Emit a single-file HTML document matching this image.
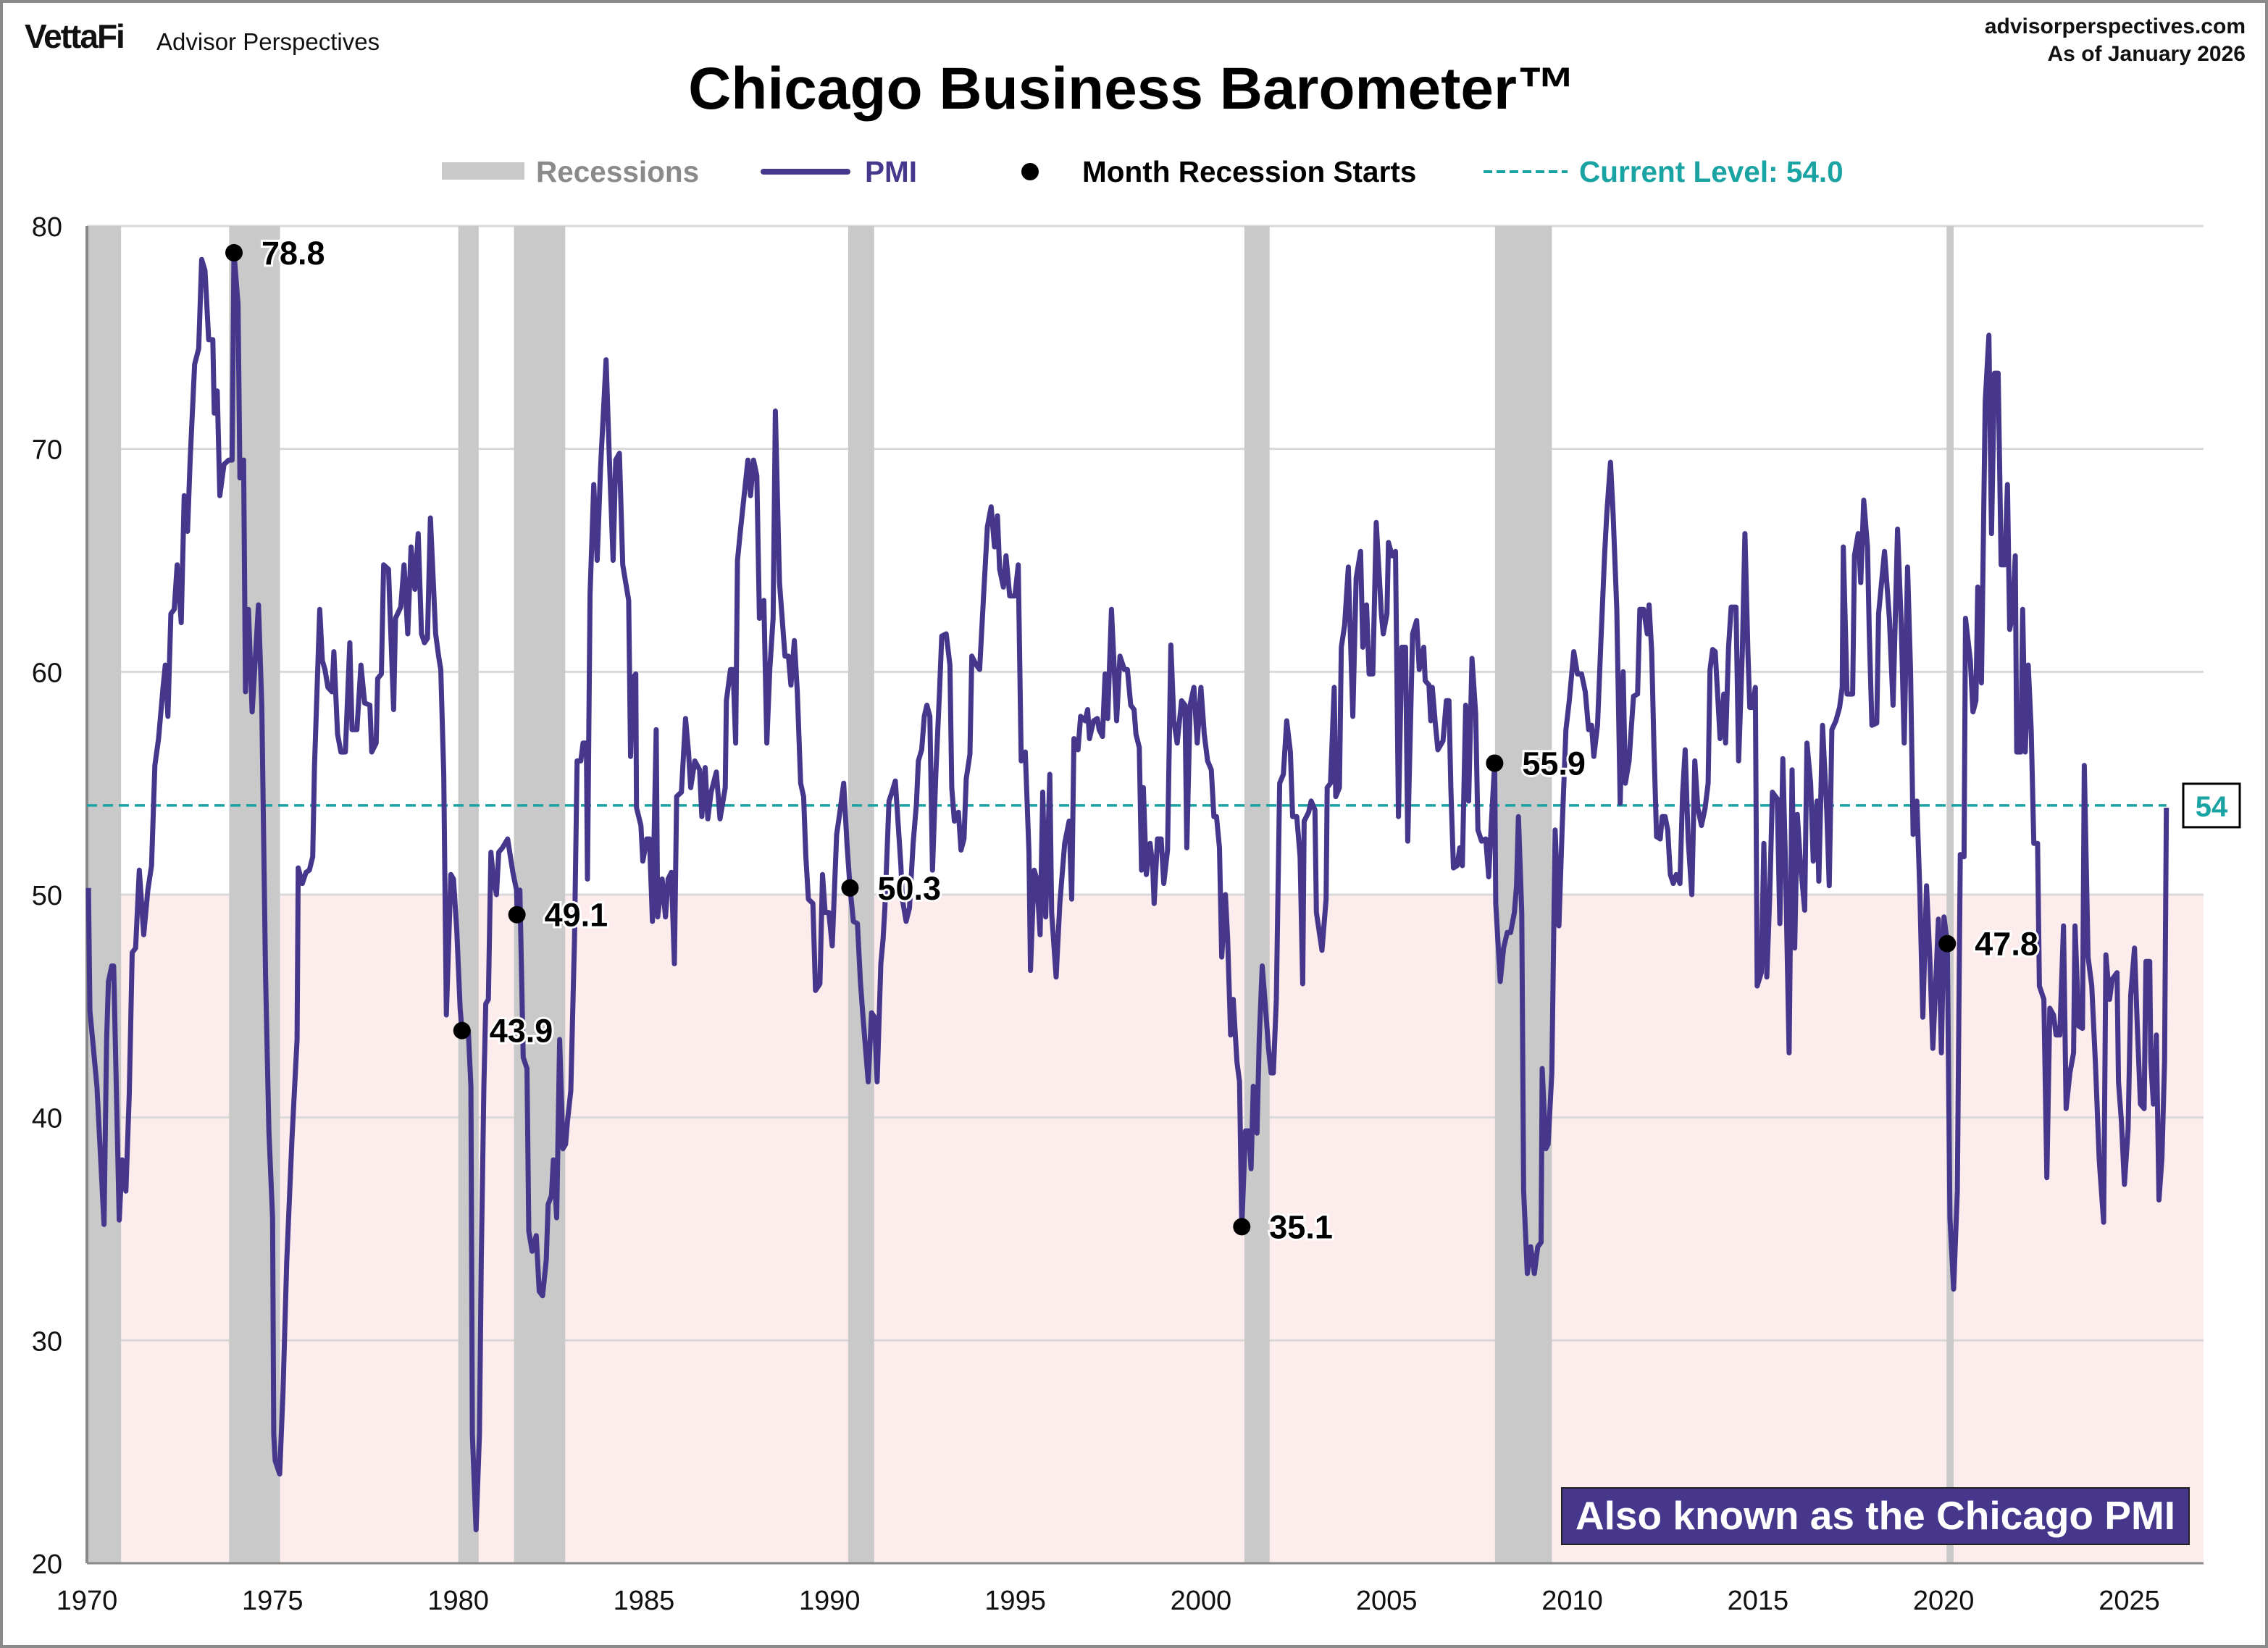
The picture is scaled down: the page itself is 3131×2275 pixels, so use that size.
<!DOCTYPE html>
<html><head><meta charset="utf-8"><style>
html,body{margin:0;padding:0;background:#fff}
svg{display:block}
text{font-family:"Liberation Sans",Arial,sans-serif;font-weight:bold}
</style></head><body>
<svg id="chart" xmlns="http://www.w3.org/2000/svg" width="3131" height="2275" viewBox="0 0 3131 2275">
<rect x="2" y="2" width="3127" height="2271" fill="#fff" stroke="#8a8a8a" stroke-width="4"/>
<text x="34" y="66" font-size="46" fill="#111" letter-spacing="-2">VettaFi</text>
<text x="216" y="69" font-size="33" fill="#111" style="font-weight:normal">Advisor Perspectives</text>
<text x="3100" y="46" font-size="30" text-anchor="end" fill="#111">advisorperspectives.com</text>
<text x="3100" y="84" font-size="30" text-anchor="end" fill="#111">As of January 2026</text>
<text x="1563" y="150" font-size="82" text-anchor="middle" fill="#000">Chicago Business Barometer™</text>
<g>
 <rect x="610" y="224" width="114" height="24" fill="#c9c9c9"/>
 <text x="740" y="251" font-size="40.5" fill="#8a8a8a">Recessions</text>
 <line x1="1054" y1="237" x2="1170" y2="237" stroke="#46368c" stroke-width="8" stroke-linecap="round"/>
 <text x="1194" y="251" font-size="40.5" fill="#46368c">PMI</text>
 <circle cx="1422" cy="237" r="12" fill="#000"/>
 <text x="1494" y="251" font-size="40.5" fill="#000">Month Recession Starts</text>
 <line x1="2048" y1="237" x2="2164" y2="237" stroke="#1aa3a3" stroke-width="4" stroke-dasharray="12 6"/>
 <text x="2180" y="251" font-size="40.5" fill="#1aa3a3">Current Level: 54.0</text>
</g>
<g id="plot"></g>
</svg>
<script>
const yTicks = [20,30,40,50,60,70,80];
const xTicks = [1970,1975,1980,1985,1990,1995,2000,2005,2010,2015,2020,2025];
const recessionStarts = [1970.0,1973.83,1980.0,1981.5,1990.5,2001.17,2007.92,2020.08];
const recessionEnds   = [1970.92,1975.2,1980.55,1982.88,1991.2,2001.85,2009.45,2020.27];
const markerYears  = [1973.96,1980.1,1981.58,1990.55,2001.1,2007.91,2020.1];
const markerValues = [78.8,43.9,49.1,50.3,35.1,55.9,47.8];
const currentLevel = 54.0;
const pmiSeries = [
[1970.04,50.3],[1970.08,44.8],[1970.27,41.4],[1970.46,35.2],[1970.53,43.5],[1970.58,46.1],[1970.67,46.8],[1970.72,46.8],[1970.87,35.4],[1970.95,38.1],[1971.05,36.7],[1971.14,41.0],[1971.22,47.4],[1971.31,47.6],[1971.41,51.1],[1971.53,48.2],[1971.64,50.2],[1971.74,51.3],[1971.83,55.8],[1971.93,57.0],[1972.05,59.3],[1972.11,60.3],[1972.18,58.0],[1972.26,62.6],[1972.35,62.8],[1972.43,64.8],[1972.54,62.2],[1972.62,67.9],[1972.71,66.3],[1972.78,69.5],[1972.90,73.8],[1973.01,74.5],[1973.09,78.5],[1973.18,78.0],[1973.28,74.9],[1973.39,74.9],[1973.43,71.6],[1973.51,72.6],[1973.58,67.9],[1973.69,69.3],[1973.82,69.5],[1973.91,69.5],[1973.96,78.8],[1974.07,76.5],[1974.12,68.7],[1974.22,69.5],[1974.27,59.1],[1974.35,62.8],[1974.45,58.2],[1974.62,63.0],[1974.71,58.5],[1974.81,46.4],[1974.90,39.4],[1975.00,35.5],[1975.03,25.8],[1975.07,24.6],[1975.19,24.0],[1975.28,27.7],[1975.38,33.5],[1975.52,39.0],[1975.66,43.5],[1975.69,51.2],[1975.80,50.5],[1975.90,51.0],[1975.99,51.1],[1976.08,51.7],[1976.13,55.8],[1976.20,59.3],[1976.27,62.8],[1976.34,60.5],[1976.41,60.1],[1976.49,59.3],[1976.60,59.1],[1976.65,60.9],[1976.75,57.2],[1976.84,56.4],[1976.96,56.4],[1977.08,61.3],[1977.14,57.4],[1977.27,57.4],[1977.38,60.3],[1977.48,58.6],[1977.62,58.5],[1977.67,56.4],[1977.79,56.8],[1977.83,59.7],[1977.93,59.9],[1977.99,64.8],[1978.12,64.6],[1978.26,58.3],[1978.31,62.4],[1978.45,62.9],[1978.54,64.8],[1978.64,61.7],[1978.73,65.6],[1978.83,63.7],[1978.92,66.2],[1979.01,61.7],[1979.09,61.3],[1979.17,61.5],[1979.25,66.9],[1979.39,61.7],[1979.47,60.7],[1979.53,60.1],[1979.61,55.4],[1979.68,44.6],[1979.80,50.9],[1979.87,50.7],[1979.96,48.4],[1980.05,44.9],[1980.10,43.9],[1980.27,43.9],[1980.34,41.4],[1980.38,25.8],[1980.48,21.5],[1980.57,25.8],[1980.62,33.6],[1980.69,41.4],[1980.74,45.1],[1980.81,45.3],[1980.88,51.9],[1980.95,50.7],[1981.03,50.0],[1981.09,51.9],[1981.19,52.1],[1981.33,52.5],[1981.47,51.0],[1981.57,50.2],[1981.59,49.1],[1981.66,50.2],[1981.75,42.7],[1981.85,42.2],[1981.90,34.9],[1981.99,34.0],[1982.10,34.7],[1982.18,32.2],[1982.27,32.0],[1982.37,33.6],[1982.42,36.1],[1982.51,36.5],[1982.56,38.1],[1982.65,35.5],[1982.73,43.5],[1982.82,38.6],[1982.89,38.8],[1982.94,39.8],[1983.03,41.2],[1983.13,48.0],[1983.20,56.0],[1983.30,56.0],[1983.36,56.8],[1983.45,56.8],[1983.48,50.7],[1983.55,63.5],[1983.65,68.4],[1983.74,65.0],[1983.83,69.1],[1983.98,74.0],[1984.07,69.5],[1984.17,65.0],[1984.24,69.5],[1984.34,69.8],[1984.43,64.8],
[1984.59,63.2],[1984.64,56.2],[1984.70,59.7],[1984.78,59.9],[1984.80,53.9],[1984.92,53.1],[1984.97,51.5],[1985.08,52.5],[1985.15,52.5],[1985.23,48.8],[1985.33,57.4],[1985.37,49.0],[1985.49,50.7],[1985.58,49.0],[1985.65,50.7],[1985.74,51.0],[1985.82,46.9],[1985.88,54.4],[1986.01,54.6],[1986.12,57.9],[1986.20,56.4],[1986.26,54.8],[1986.37,56.0],[1986.50,55.6],[1986.56,53.5],[1986.65,55.7],[1986.72,53.4],[1986.81,54.6],[1986.95,55.5],[1987.05,53.4],[1987.19,54.8],[1987.22,58.7],[1987.33,60.1],[1987.40,60.1],[1987.47,56.8],[1987.52,65.0],[1987.61,66.5],[1987.80,69.5],[1987.87,67.9],[1987.95,69.5],[1988.04,68.8],[1988.11,62.4],[1988.23,63.2],[1988.31,56.8],[1988.39,60.1],[1988.48,62.4],[1988.54,71.7],[1988.65,64.0],[1988.80,60.7],[1988.89,60.7],[1988.96,59.4],[1989.05,61.4],[1989.13,59.1],[1989.22,55.0],[1989.30,54.4],[1989.36,51.7],[1989.43,49.8],[1989.55,49.6],[1989.62,45.7],[1989.74,46.0],[1989.81,50.9],[1989.88,49.2],[1989.98,49.2],[1990.07,47.7],[1990.19,52.7],[1990.26,53.5],[1990.38,55.0],[1990.47,52.2],[1990.55,50.3],[1990.64,48.8],[1990.75,48.7],[1990.83,46.1],[1990.90,44.5],[1991.04,41.6],[1991.13,44.7],[1991.21,44.5],[1991.28,41.6],[1991.38,46.9],[1991.44,48.0],[1991.49,49.4],[1991.60,54.2],[1991.68,54.6],[1991.77,55.1],[1991.92,51.3],[1991.96,49.8],[1992.06,48.8],[1992.15,49.4],[1992.25,52.3],[1992.34,54.1],[1992.39,56.0],[1992.48,56.5],[1992.55,58.0],[1992.62,58.5],[1992.70,58.0],[1992.77,51.1],[1992.86,55.4],[1992.96,59.1],[1993.02,61.6],[1993.14,61.7],[1993.24,60.3],[1993.29,54.8],[1993.36,53.3],[1993.47,53.7],[1993.54,52.0],[1993.62,52.5],[1993.68,55.2],[1993.78,56.3],[1993.83,60.7],[1993.95,60.3],[1994.04,60.1],[1994.14,63.2],[1994.25,66.5],[1994.35,67.4],[1994.44,65.6],[1994.52,67.0],[1994.58,64.6],[1994.68,63.8],[1994.75,65.2],[1994.85,63.4],[1994.99,63.4],[1995.08,64.8],[1995.16,56.0],[1995.27,56.4],[1995.37,51.9],[1995.41,46.6],[1995.51,51.1],[1995.58,50.7],[1995.67,48.2],[1995.74,54.6],[1995.82,49.0],[1995.93,55.4],[1995.98,49.2],[1996.10,46.3],[1996.20,49.6],[1996.33,52.3],[1996.45,53.3],[1996.52,49.8],[1996.58,57.0],[1996.69,56.5],[1996.76,58.0],[1996.88,57.8],[1996.95,58.3],[1997.00,57.0],[1997.11,57.8],[1997.21,57.9],[1997.26,57.4],[1997.35,57.1],[1997.42,59.9],[1997.49,57.9],[1997.59,62.8],[1997.73,57.8],[1997.82,60.7],[1997.94,60.1],[1998.02,60.1],[1998.11,58.5],[1998.20,58.3],[1998.25,57.2],[1998.34,56.6],[1998.40,51.1],[1998.45,54.8],
[1998.53,50.9],[1998.63,52.3],[1998.70,51.3],[1998.74,49.6],[1998.83,52.5],[1998.93,52.5],[1999.00,50.5],[1999.10,52.0],[1999.19,61.2],[1999.27,57.8],[1999.36,56.8],[1999.48,58.7],[1999.57,58.5],[1999.62,52.1],[1999.71,58.5],[1999.81,59.3],[1999.90,56.8],[2000.00,59.3],[2000.09,57.2],[2000.18,56.0],[2000.28,55.6],[2000.35,53.5],[2000.42,53.5],[2000.50,52.1],[2000.56,47.2],[2000.66,50.0],[2000.72,48.0],[2000.80,43.7],[2000.87,45.3],[2000.97,42.5],[2001.04,41.6],[2001.10,35.1],[2001.20,39.4],[2001.29,39.4],[2001.35,37.7],[2001.41,41.4],[2001.51,39.3],[2001.57,43.5],[2001.65,46.8],[2001.74,44.9],[2001.82,43.1],[2001.89,42.0],[2001.95,42.0],[2002.03,45.3],[2002.12,55.0],[2002.22,55.4],[2002.31,57.8],[2002.41,56.4],[2002.47,53.5],[2002.58,53.5],[2002.67,51.7],[2002.74,46.0],[2002.78,53.3],[2002.90,53.7],[2002.97,54.2],[2003.07,53.8],[2003.11,49.2],[2003.26,47.5],[2003.37,49.8],[2003.40,54.8],[2003.49,55.0],[2003.59,59.3],[2003.63,54.4],[2003.73,54.8],[2003.78,61.1],[2003.87,62.1],[2003.97,64.7],[2004.09,58.0],[2004.18,64.2],[2004.30,65.4],[2004.36,61.1],[2004.46,63.0],[2004.53,59.9],[2004.63,59.9],[2004.72,66.7],[2004.86,62.6],[2004.91,61.7],[2005.01,62.6],[2005.05,65.8],[2005.15,65.2],[2005.24,65.4],[2005.32,53.5],[2005.41,61.1],[2005.51,61.1],[2005.57,52.4],[2005.70,61.7],[2005.81,62.3],[2005.88,60.1],[2006.00,61.1],[2006.04,59.6],[2006.14,59.4],[2006.19,57.8],[2006.23,59.3],[2006.31,57.7],[2006.38,56.5],[2006.52,56.9],[2006.61,58.7],[2006.68,58.7],[2006.73,54.8],[2006.80,51.2],[2006.90,51.3],[2006.97,52.1],[2007.04,51.3],[2007.13,58.5],[2007.21,54.2],[2007.30,60.6],[2007.40,58.1],[2007.46,52.9],[2007.56,52.4],[2007.67,52.5],[2007.75,50.8],[2007.81,52.9],[2007.91,55.9],[2007.94,49.6],[2008.06,46.1],[2008.15,47.6],[2008.25,48.3],[2008.34,48.3],[2008.44,49.2],[2008.50,50.4],[2008.55,53.5],[2008.64,49.2],[2008.69,36.7],[2008.79,33.0],[2008.88,34.2],[2008.98,33.0],[2009.07,34.2],[2009.16,34.4],[2009.19,42.2],[2009.29,38.6],[2009.35,38.8],[2009.45,42.0],[2009.54,52.9],[2009.64,48.6],[2009.73,53.1],[2009.83,57.4],[2009.92,58.7],[2010.04,60.9],[2010.14,59.9],[2010.25,59.9],[2010.35,59.1],[2010.44,57.4],[2010.52,57.6],[2010.58,56.2],[2010.68,57.6],[2010.77,61.3],[2010.87,65.2],[2010.93,67.1],[2011.03,69.4],[2011.10,67.1],[2011.20,62.8],[2011.29,54.1],[2011.37,60.0],[2011.43,55.0],[2011.53,56.0],[2011.57,57.0],[2011.65,58.9],[2011.76,59.0],
[2011.82,62.8],[2011.92,62.8],[2012.02,61.7],[2012.07,63.0],[2012.14,60.9],[2012.20,56.6],[2012.27,52.6],[2012.37,52.5],[2012.42,53.5],[2012.50,53.5],[2012.57,52.9],[2012.64,50.9],[2012.72,50.5],[2012.80,50.9],[2012.90,50.5],[2012.97,54.5],[2013.04,56.5],[2013.12,52.5],[2013.22,50.0],[2013.30,56.0],[2013.38,53.9],[2013.48,53.1],[2013.58,53.9],[2013.66,55.0],[2013.71,60.1],[2013.78,61.0],[2013.85,60.9],[2013.91,59.1],[2013.98,57.0],[2014.08,59.0],[2014.13,56.8],[2014.21,61.1],[2014.28,62.9],[2014.41,62.9],[2014.48,56.0],[2014.58,60.9],[2014.65,66.2],[2014.73,60.9],[2014.78,58.4],[2014.85,58.4],[2014.93,59.3],[2014.98,45.9],[2015.09,46.5],[2015.16,52.3],[2015.24,46.3],[2015.32,50.0],[2015.39,54.6],[2015.52,54.3],[2015.59,48.7],[2015.67,56.1],[2015.74,51.5],[2015.84,42.9],[2015.92,55.6],[2015.99,47.6],[2016.06,53.6],[2016.14,51.5],[2016.26,49.3],[2016.32,56.8],[2016.42,55.0],[2016.49,51.5],[2016.59,54.2],[2016.64,50.6],[2016.74,57.6],[2016.85,53.9],[2016.92,50.4],[2016.99,57.4],[2017.10,57.8],[2017.20,58.4],[2017.27,59.3],[2017.30,65.6],[2017.40,59.0],[2017.55,59.0],[2017.60,65.2],[2017.70,66.2],[2017.77,64.0],[2017.85,67.7],[2017.95,65.6],[2018.00,61.7],[2018.07,57.6],[2018.20,57.7],[2018.25,62.6],[2018.41,65.4],[2018.54,62.4],[2018.64,58.5],[2018.76,66.4],[2018.86,62.1],[2018.94,56.8],[2019.03,64.7],[2019.11,60.1],[2019.18,52.7],[2019.28,54.2],[2019.36,50.2],[2019.44,44.5],[2019.54,50.4],[2019.63,47.1],[2019.71,43.1],[2019.79,46.1],[2019.86,48.9],[2019.94,42.9],[2020.01,49.0],[2020.10,47.8],[2020.17,35.5],[2020.27,32.3],[2020.37,36.7],[2020.45,51.8],[2020.55,51.7],[2020.59,62.4],[2020.72,60.5],[2020.79,58.2],[2020.87,58.7],[2020.92,63.8],[2021.02,59.5],[2021.12,72.1],[2021.22,75.1],[2021.29,66.2],[2021.37,73.4],[2021.47,73.4],[2021.55,64.8],[2021.65,64.8],[2021.72,68.4],[2021.78,61.9],[2021.86,62.6],[2021.93,65.2],[2021.97,56.4],[2022.08,56.4],[2022.13,62.8],[2022.20,56.4],[2022.28,60.3],[2022.36,57.4],[2022.43,52.3],[2022.53,52.3],[2022.58,45.9],[2022.70,45.3],[2022.78,37.3],[2022.86,44.9],[2022.96,44.6],[2023.03,43.7],[2023.13,43.7],[2023.23,48.6],[2023.30,40.4],[2023.40,42.0],[2023.50,42.9],[2023.54,48.6],[2023.64,44.1],[2023.74,44.0],[2023.79,55.8],[2023.89,47.2],[2023.99,45.9],[2024.09,42.4],[2024.19,38.1],[2024.31,35.3],[2024.37,47.3],[2024.47,45.3],[2024.54,46.2],[2024.67,46.5],[2024.71,41.6],[2024.79,39.8],[2024.87,37.0],[2024.97,39.5],[2025.04,45.5],[2025.14,47.6],[2025.22,43.9],[2025.30,40.6],[2025.40,40.4],[2025.45,47.0],[2025.55,47.0],[2025.58,42.5],[2025.65,40.6],[2025.73,43.7],[2025.80,36.3],[2025.88,38.2],[2025.95,42.5],[2026.00,53.9]
];

const NS = 'http://www.w3.org/2000/svg';
const L = 120, R = 3042, T = 312, B = 2158;
const xMin = 1970, xMax = 2027, yMin = 20, yMax = 80;
function xs(v){ return L + (v - xMin) / (xMax - xMin) * (R - L); }
function ys(v){ return B - (v - yMin) / (yMax - yMin) * (B - T); }
const plot = document.getElementById('plot');
function mk(tag, attrs, parent){
  const e = document.createElementNS(NS, tag);
  for (const k in attrs) e.setAttribute(k, attrs[k]);
  (parent || plot).appendChild(e);
  return e;
}

let shade = mk('rect', {x:L, y:ys(50), width:R-L, height:B-ys(50), fill:'#fcecec'});



yTicks.forEach(function(t){
  const g = mk('line', {x1:L, x2:R, y1:ys(t), y2:ys(t), stroke:'#d9d9d9', 'stroke-width':3});
  
  
  const lb = mk('text', {x:86, y:ys(t)+14, 'font-size':38, 'text-anchor':'end', fill:'#111', style:'font-weight:normal'});
  lb.textContent = t;
  
  
});

recessionStarts.forEach(function(s, i){
  const r = mk('rect', {x:xs(s), y:T, width:xs(recessionEnds[i]) - xs(s), height:B-T, fill:'#c9c9c9'});
  
  
});

const ax = mk('line', {x1:L, x2:L, y1:T, y2:B, stroke:'#888', 'stroke-width':4});


const bx = mk('line', {x1:L, x2:R, y1:B, y2:B, stroke:'#888', 'stroke-width':3});



xTicks.forEach(function(t){
  const lb = mk('text', {x:xs(t), y:2222, 'font-size':38, 'text-anchor':'middle', fill:'#111', style:'font-weight:normal'});
  lb.textContent = t;
  
  
});

const cl = mk('line', {x1:L, x2:xs(2026.0), y1:ys(currentLevel), y2:ys(currentLevel), stroke:'#1aa3a3', 'stroke-width':3.5, 'stroke-dasharray':'14 8'});


const cb = mk('rect', {x:3014, y:ys(currentLevel)-30, width:78, height:60, fill:'#fff', stroke:'#000', 'stroke-width':3});


const ct = mk('text', {x:3053, y:ys(currentLevel)+15, 'font-size':40, 'text-anchor':'middle', fill:'#1aa3a3'});
ct.textContent = String(Math.round(currentLevel));



const d = pmiSeries.map(function(p, i){ return (i ? 'L' : 'M') + xs(p[0]).toFixed(1) + ' ' + ys(p[1]).toFixed(1); }).join(' ');
const pl = mk('path', {d:d, fill:'none', stroke:'#46368c', 'stroke-width':7, 'stroke-linejoin':'round'});



markerYears.forEach(function(y, i){
  const c = mk('circle', {cx:xs(y), cy:ys(markerValues[i]), r:12, fill:'#000'});
  
  
  const lb = mk('text', {x:xs(y)+38, y:ys(markerValues[i])+16, 'font-size':45, fill:'#000', stroke:'#fff', 'stroke-width':6, 'paint-order':'stroke'});
  lb.textContent = markerValues[i].toFixed(1);
  
  
});

const ab = mk('rect', {x:2156, y:2054, width:866, height:78, fill:'#46368c', stroke:'#222', 'stroke-width':2});


const at = mk('text', {x:2589, y:2111, 'font-size':55, 'text-anchor':'middle', fill:'#fff'});
at.textContent = 'Also known as the Chicago PMI';


</script>
</body></html>
